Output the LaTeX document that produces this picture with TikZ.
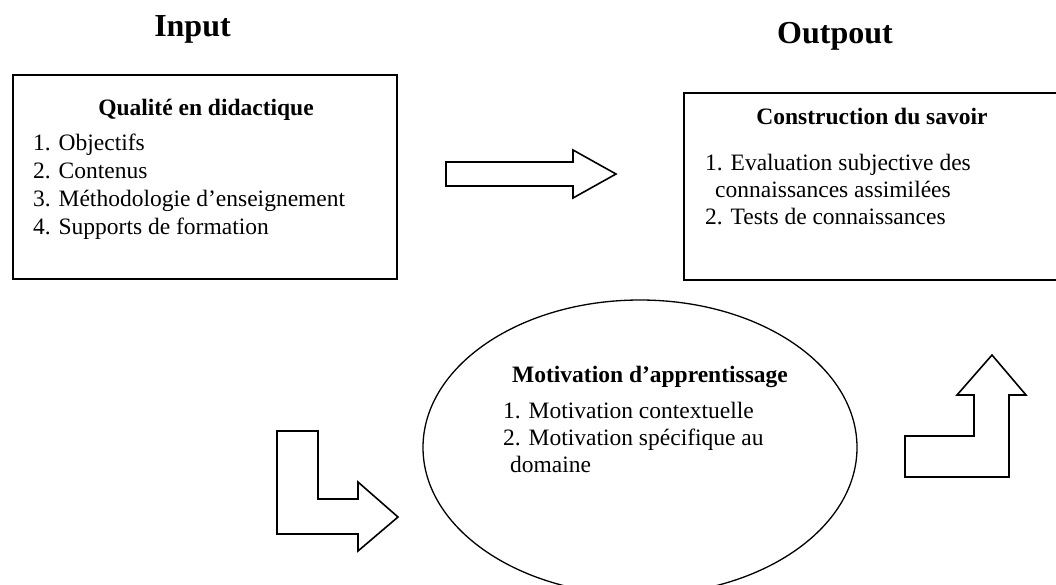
\documentclass[tikz,border=0pt]{standalone}
\usepackage{fontspec}
\setmainfont{Liberation Serif}
\usetikzlibrary{shapes.geometric}
\begin{document}
\begin{tikzpicture}[x=1pt,y=-1pt,
  frame/.style={draw, line width=1.6pt, inner sep=0pt, anchor=north west},
  oval/.style={draw, ellipse, line width=1.3pt, inner sep=0pt},
  blockarrow/.style={draw, line width=1.6pt, line join=miter, fill=white},
  body/.style={font=\fontsize{23.5}{27}\selectfont, inner sep=0pt, anchor=base west},
  head/.style={font=\bfseries\fontsize{23.5}{27}\selectfont, inner sep=0pt, anchor=base},
  big/.style={font=\bfseries\fontsize{32}{36}\selectfont, inner sep=0pt, anchor=base}]
\useasboundingbox (0,0) rectangle (1056,584);

% column headings
\node[big] (input) at (192.5,36) {Input};
\node[big] (output) at (835,43) {Outpout};

% teaching quality box
\node[frame, minimum width=384pt, minimum height=204pt] (quality) at (12,74) {};
\node[head] (qualityT) at (206,115) {Qualité en didactique};
\node[body] (q1) at (33,150.5) {1. Objectifs};
\node[body] (q2) at (33,178.3) {2. Contenus};
\node[body] (q3) at (33,206.3) {3. Méthodologie d’enseignement};
\node[body] (q4) at (33,234) {4. Supports de formation};

% knowledge construction box (runs off the right edge)
\node[frame, minimum width=377pt, minimum height=187pt] (savoir) at (683,92) {};
\node[head] (savoirT) at (872,124) {Construction du savoir};
\node[body] (s1) at (705,170.5) {1. Evaluation subjective des};
\node[body] (s1b) at (715,197.3) {connaissances assimilées};
\node[body] (s2) at (705,224) {2. Tests de connaissances};

% motivation ellipse (bottom slightly cut by the page edge)
\node[oval, minimum width=434pt, minimum height=295pt] (motiv) at (640,447.5) {};
\node[head] (motivT) at (650,382) {Motivation d’apprentissage};
\node[body] (m1) at (503,418.5) {1. Motivation contextuelle};
\node[body] (m2) at (503,445) {2. Motivation spécifique au};
\node[body] (m2b) at (510,472) {domaine};

% block arrows
\draw[blockarrow] (446,162) -- (573,162) -- (573,150) -- (616,174)
  -- (573,198) -- (573,186) -- (446,186) -- cycle;
\draw[blockarrow] (277,431) -- (318,431) -- (318,499) -- (358,499)
  -- (358,482) -- (398,517) -- (358,551) -- (358,534) -- (277,534) -- cycle;
\draw[blockarrow] (905,436) -- (974,436) -- (974,395) -- (957,395)
  -- (992,355) -- (1026,395) -- (1009,395) -- (1009,477) -- (905,477) -- cycle;
\end{tikzpicture}
\end{document}
